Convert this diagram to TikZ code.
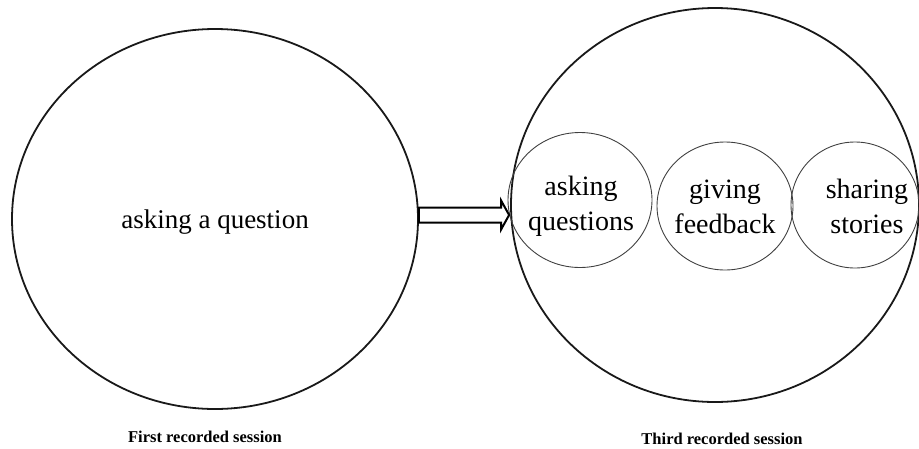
\documentclass[tikz,border=0pt]{standalone}
\usepackage{fontspec}
\setmainfont{Liberation Serif}
\usetikzlibrary{shapes.geometric,calc}
\begin{document}
\begin{tikzpicture}[x=1pt,y=-1pt,
  bigoval/.style={ellipse,draw=black!90,line width=1.8pt,inner sep=0pt},
  smalloval/.style={ellipse,draw=black!75,line width=0.9pt,inner sep=0pt},
  ovaltext/.style={align=center,inner sep=0pt,font=\fontsize{28}{35}\selectfont},
  caption/.style={font=\fontsize{16.5}{18}\selectfont\bfseries,inner sep=0pt},
  blockarrow/.style={draw=black,line width=2pt,line join=miter,fill=white}]
  \useasboundingbox (0,0) rectangle (919,448);

  % first session
  \node[bigoval,minimum width=406pt,minimum height=380pt] (first) at (215,219) {};
  \node[font=\fontsize{27}{32}\selectfont] (firsttext) at (215,222) {asking a question};
  \node[caption] (firstcap) at (205,437) {First recorded session};

  % third session
  \node[bigoval,minimum width=408pt,minimum height=394pt] (third) at (715,205) {};
  \node[smalloval,minimum width=144pt,minimum height=135pt] (ask) at (580,200) {};
  \node[smalloval,minimum width=136pt,minimum height=128pt] (give) at (725,206) {};
  \node[smalloval,minimum width=128pt,minimum height=126pt] (share) at (855,205) {};
  \node[ovaltext] (asktext) at (581,206) {asking\\questions};
  \node[ovaltext] (givetext) at (725,207) {giving\\feedback};
  \node[ovaltext] (sharetext) at (867,206) {sharing\\stories};
  \node[caption] (thirdcap) at (722,439) {Third recorded session};

  % open block arrow between the two sessions
  \coordinate (tail) at ($(first.east)+(0,-4)$);
  \coordinate (tip) at ($(third.west)+(-1,10)$);
  \draw[blockarrow] ($(tail)+(0,-7.5)$) -- ($(tip)+(-8,-7.5)$) -- ($(tip)+(-8,-14.5)$)
    -- (tip) -- ($(tip)+(-8,14.5)$) -- ($(tip)+(-8,7.5)$) -- ($(tail)+(0,7.5)$) -- cycle;
\end{tikzpicture}
\end{document}
